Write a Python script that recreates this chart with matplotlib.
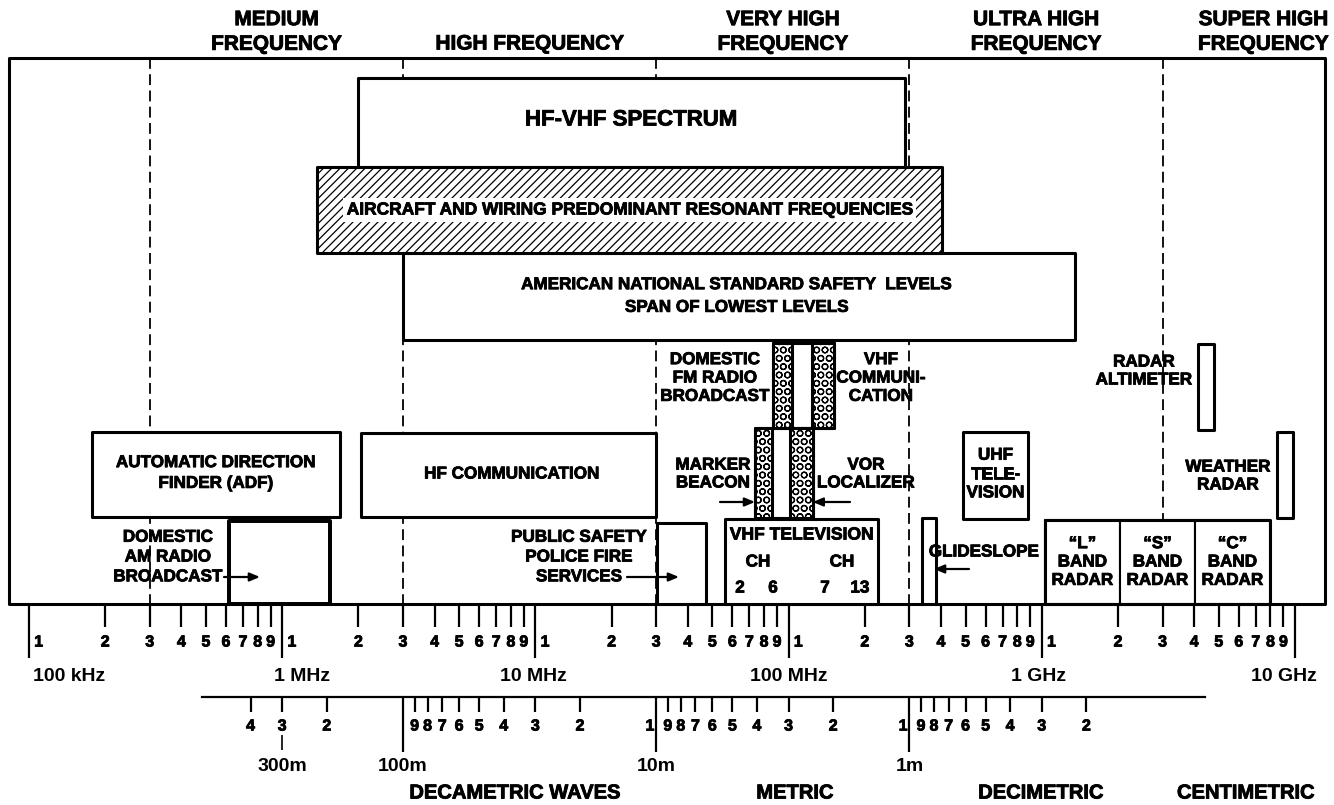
import matplotlib
matplotlib.use('Agg')
import matplotlib.pyplot as plt
from matplotlib.patches import Rectangle
from matplotlib import font_manager
import matplotlib.patheffects as pe
import numpy as np

# all frequencies in MHz
band_edges = [0.3, 3, 30, 300, 3000]
band_names = ['MEDIUM\nFREQUENCY', 'HIGH FREQUENCY', 'VERY HIGH\nFREQUENCY',
              'ULTRA HIGH\nFREQUENCY', 'SUPER HIGH\nFREQUENCY']
band_label_at = [0.95, 9.5, 95, 950, 7500]

frame_span = (0.0834, 13140)
hf_vhf = (1.99, 288)
aircraft = (1.372, 403.5)
ansi = (3.0, 1352)
adf = (0.1774, 1.692)
am_radio = (0.6165, 1.545)
hf_comm = (2.048, 29.95)
public_safety = (30.2, 47.2)
vhf_tv = (56.1, 225.5)
glideslope = (336.5, 382.1)
uhf_tv = (488.5, 882)
radar_edges = [1029, 2036, 4027, 7966]
radar_names = ['\u201cL\u201d\nBAND\nRADAR', '\u201cS\u201d\nBAND\nRADAR', '\u201cC\u201d\nBAND\nRADAR']
radar_altimeter = (4140, 4787)
weather_radar = (8490, 9820)
# stippled navigation / broadcast bands
marker_beacon = (73.7, 85.8)
vor = (101.3, 124.5)
fm_radio = (86.5, 102.9)
vhf_com = (123.4, 151.5)

decades = [0.1, 1, 10, 100, 1000, 10000]
decade_names = ['100 kHz', '1 MHz', '10 MHz', '100 MHz', '1 GHz', '10 GHz']
wl_decades = [100, 10, 1]            # metres
wl_major_names = ['100m', '10m', '1m']
wl_span = (620, 0.068)               # metres
wl_names = ['DECAMETRIC WAVES', 'METRIC', 'DECIMETRIC', 'CENTIMETRIC']

W, H = 1334, 805
PX = 253.2  # pixels per decade


def mhz(px):
    # layout helper: figure pixel column -> frequency
    return 0.1 * 10 ** ((px - 29) / PX)


def gm(span):
    return np.sqrt(span[0] * span[1])


fams = {f.name for f in font_manager.fontManager.ttflist}
FONT = 'Liberation Sans' if 'Liberation Sans' in fams else 'DejaVu Sans'
plt.rcParams['font.family'] = [FONT, 'DejaVu Sans']
plt.rcParams['font.weight'] = 'bold'
plt.rcParams['hatch.linewidth'] = 0.9

# slightly heavier strokes, like the photocopied original
HEAVY = [pe.withStroke(linewidth=0.6, foreground='black')]

fig = plt.figure(figsize=(W / 100, H / 100), dpi=100)
ax = fig.add_axes([0, 0, 1, 1])
ax.set_xscale('log')
ax.set_xlim(mhz(0), mhz(W))
ax.set_ylim(H, 0)
ax.axis('off')

TOP, BOT = 58, 604
LW = 2.2


def box(span, top, bot, hatch=None, z=3, lw=LW, fc='white'):
    ax.add_patch(Rectangle((span[0], top), span[1] - span[0], bot - top,
                           facecolor=fc, edgecolor='black', lw=lw, hatch=hatch,
                           zorder=z, joinstyle='round'))


def label(x, y, s, size=12.3, ls=1.0, **kw):
    ax.text(x, y, s, fontsize=size, ha='center', va='center', fontweight='bold',
            linespacing=ls, zorder=10, path_effects=HEAVY, **kw)


def arrow(x0, x1, y):
    ax.annotate('', xy=(x1, y), xytext=(x0, y),
                arrowprops=dict(arrowstyle='-|>,head_length=0.6,head_width=0.25',
                                lw=1.6, color='black', shrinkA=0, shrinkB=0),
                zorder=10)


# frame and band divisions
box(frame_span, TOP, BOT, z=1, fc='none')
ax.vlines(band_edges, TOP, BOT, colors='black', lw=1.3, linestyles=(0, (6, 3)), zorder=1)
for name, f in zip(band_names, band_label_at):
    label(f, 32 if '\n' in name else 44, name, size=15, ls=1.38)

# big overlapping boxes
box(hf_vhf, 78, 167, z=2)
label(gm(hf_vhf), 120, 'HF-VHF SPECTRUM', size=16)
box(aircraft, 167, 253, hatch='////', z=3)
label(gm(aircraft), 210, 'AIRCRAFT AND WIRING PREDOMINANT RESONANT FREQUENCIES', size=12.5,
      bbox=dict(facecolor='white', edgecolor='none', pad=3))
box(ansi, 253, 340, z=2)
label(mhz(737), 296, 'AMERICAN NATIONAL STANDARD SAFETY  LEVELS\nSPAN OF LOWEST LEVELS',
      size=12.3, ls=1.64)

# stippled VHF nav bands
box((fm_radio[0], vhf_com[1]), 343, 428, z=3)
box(fm_radio, 343, 428, hatch='OO', z=4)
box(vhf_com, 343, 428, hatch='OO', z=4)
box((marker_beacon[0], vor[1]), 428, 518, z=3)
box(marker_beacon, 428, 518, hatch='OO', z=4)
box(vor, 428, 518, hatch='OO', z=4)
label(mhz(715), 378, 'DOMESTIC\nFM RADIO\nBROADCAST', ls=1.28)
label(mhz(881), 378, 'VHF\nCOMMUNI-\nCATION', ls=1.28)
label(mhz(713), 474, 'MARKER\nBEACON', ls=1.24)
label(mhz(866), 474, 'VOR\nLOCALIZER', ls=1.24)
arrow(mhz(720), marker_beacon[0], 502)
arrow(mhz(850), vor[1], 502)

# middle row
box(adf, 432, 517)
label(gm(adf), 473, 'AUTOMATIC DIRECTION\nFINDER (ADF)', ls=1.48)
box(hf_comm, 433, 517)
label(mhz(512), 474, 'HF COMMUNICATION')
box(uhf_tv, 432, 519)
label(gm(uhf_tv), 474, 'UHF\nTELE-\nVISION', ls=1.32)
box(radar_altimeter, 344, 430)
label(mhz(1144), 371, 'RADAR\nALTIMETER', ls=1.24)
box(weather_radar, 432, 518)
label(mhz(1228), 476, 'WEATHER\nRADAR', ls=1.24)

# bottom row
box(am_radio, 521, BOT, lw=LW * 1.3)
label(mhz(168), 557, 'DOMESTIC\nAM RADIO\nBROADCAST', ls=1.4)
arrow(mhz(224), mhz(260), 577)
box(public_safety, 523, BOT)
label(mhz(579), 557, 'PUBLIC SAFETY\nPOLICE FIRE\nSERVICES', ls=1.4)
arrow(mhz(627), mhz(679), 577)
box(vhf_tv, 519, BOT)
label(gm(vhf_tv), 535, 'VHF TELEVISION', size=12.6)
label(mhz(758), 562, 'CH')
label(mhz(842), 562, 'CH')
for s, px in zip(['2', '6', '7', '13'], [740, 773, 825, 860]):
    label(mhz(px), 588, s)
ax.plot([glideslope[0], glideslope[0], glideslope[1], glideslope[1]],
        [BOT, 518, 518, BOT], color='black', lw=LW, zorder=3, solid_joinstyle='round')
label(mhz(984), 552, 'GLIDESLOPE')
arrow(mhz(969), mhz(934), 569)
for i, name in enumerate(radar_names):
    box((radar_edges[i], radar_edges[i + 1]), 520, BOT, lw=1.5, z=3)
    label(gm((radar_edges[i], radar_edges[i + 1])), 562, name, ls=1.28)
box((radar_edges[0], radar_edges[-1]), 520, BOT, z=4, fc='none')

# frequency scale
minor = []
for d in decades[:-1]:
    for m in range(2, 10):
        minor.append(d * m)
ax.vlines(minor, BOT, 627, colors='black', lw=1.6, zorder=2)
ax.vlines(decades, BOT, 658, colors='black', lw=1.6, zorder=2)
for f in minor:
    ax.text(f, 642, str(int(round(f / 10 ** np.floor(np.log10(f) + 1e-9)))), fontsize=11.5,
            ha='center', va='center', fontweight='bold', path_effects=HEAVY)
for d in decades[:-1]:
    ax.annotate('1', (d, 642), xytext=(7, 0), textcoords='offset points', fontsize=11.5,
                ha='center', va='center', fontweight='bold', path_effects=HEAVY)
for d, name, off in zip(decades, decade_names, [40, 20, -2, 0, -3, -11]):
    ax.annotate(name, (d, 676), xytext=(off * 0.72, 0), textcoords='offset points',
                fontsize=14, ha='center', va='center', fontweight='bold')

# wavelength scale (lambda = 300 / f)
WY = 697
ax.plot([300 / wl_span[0], 300 / wl_span[1]], [WY, WY], color='black', lw=1.6)
wl_minor = [400, 300, 200]
for d in wl_decades:
    wl_minor += [d * m / 10 for m in range(9, 1, -1)]
wl_minor_f = [300 / w for w in wl_minor]
ax.vlines(wl_minor_f, WY, 712, colors='black', lw=1.6)
ax.vlines([300 / w for w in wl_decades], WY, 752, colors='black', lw=1.6)
ax.vlines([300 / 300], 735, 750, colors='black', lw=1.2)
for w, f in zip(wl_minor, wl_minor_f):
    digit = int(round(w / 10 ** np.floor(np.log10(w) + 1e-9)))
    ax.text(f, 726, str(digit), fontsize=11.5, ha='center', va='center', fontweight='bold',
            path_effects=HEAVY)
for w in wl_decades[1:]:
    ax.annotate('1', (300 / w, 726), xytext=(-4.5, 0), textcoords='offset points',
                fontsize=11.5, ha='center', va='center', fontweight='bold', path_effects=HEAVY)
for f, name in zip([1.0] + [300 / w for w in wl_decades], ['300m'] + wl_major_names):
    ax.text(f, 766, name, fontsize=14, ha='center', va='center', fontweight='bold')
for px, name in zip([515, 795, 1041, 1246], wl_names):
    ax.text(mhz(px), 793, name, fontsize=14.5, ha='center', va='center', fontweight='bold',
            path_effects=HEAVY)

fig.savefig('out.png', dpi=100)
